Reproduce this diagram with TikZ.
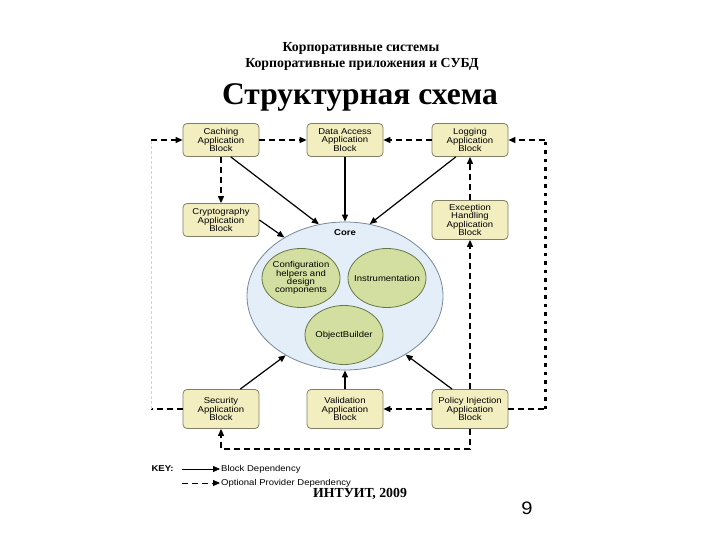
\documentclass[tikz,border=0pt]{standalone}
\usepackage{fontspec}
\setmainfont{Liberation Serif}
\setsansfont[FakeStretch=1.12]{Liberation Sans}
\usetikzlibrary{arrows.meta,shapes.geometric}
\definecolor{blockfill}{RGB}{243,238,192}
\definecolor{blockline}{RGB}{128,126,100}
\definecolor{corefill}{RGB}{228,238,248}
\definecolor{coreline}{RGB}{120,136,150}
\definecolor{partfill}{RGB}{211,223,160}
\definecolor{partline}{RGB}{104,118,70}
\begin{document}
\begin{tikzpicture}[x=1pt, y=-1pt,
    diag/.style={font=\sffamily\fontsize{8.5}{8.3}\selectfont},
    block/.style={diag, draw=blockline, fill=blockfill, rounded corners=4pt, line width=0.8pt,
        minimum width=76pt, align=center, inner sep=1pt},
    part/.style={ellipse, draw=partline, fill=partfill, line width=0.8pt,
        minimum width=78pt, minimum height=59pt, inner sep=0pt},
    dep/.style={-{Triangle[length=7pt,width=6pt]}, line width=1.2pt},
    opt/.style={dep, dash pattern=on 6pt off 4pt},
    optline/.style={line width=1.2pt, dash pattern=on 6pt off 4pt}]
    \useasboundingbox (0,0) rectangle (720,540);
    \node[font=\bfseries\fontsize{13.8}{15}\selectfont] (sub1) at (361,48) {Корпоративные системы};
    \node[font=\bfseries\fontsize{13.8}{15}\selectfont] (sub2) at (362,64) {Корпоративные приложения и СУБД};
    \node[font=\bfseries\fontsize{31.5}{34}\selectfont] (title) at (360,97) {Структурная схема};
    \node[ellipse, draw=coreline, fill=corefill, line width=0.8pt, minimum width=196pt, minimum height=148pt] (core) at (345,296) {};
    \node[diag, font=\sffamily\bfseries\fontsize{8.5}{8.3}\selectfont] (corelbl) at (345,233) {Core};
    \foreach \n/\x/\y/\t in {cfg/301/278/{Configuration\\helpers and\\design\\components}, inst/387/278/{Instrumentation}, obj/344/335/{ObjectBuilder}} {
        \node[part, label={[diag, align=center]center:\t}] (\n) at (\x,\y) {};
    }
    \foreach \n/\x/\y/\h/\t in {cach/221/140/33/{Caching\\Application\\Block}, data/345/140/33/{Data Access\\Application\\Block},
        logg/470/140/33/{Logging\\Application\\Block}, cryp/221/220/33/{Cryptography\\Application\\Block},
        exc/470/220/39/{Exception\\Handling\\Application\\Block}, sec/221/409/39/{Security\\Application\\Block},
        val/345/409/39/{Validation\\Application\\Block}, pol/470/409/39/{Policy Injection\\Application\\Block}} {
        \node[block, minimum height=\h pt] (\n) at (\x,\y) {\t};
    }
    \draw[dep] (cach.-60) -- (core.110);
    \draw[dep] (data.south) -- (core.north);
    \draw[dep] (logg.-130) -- (core.71);
    \draw[dep] (cryp.east) -- (core.136);
    \draw[dep] (sec.46) -- (core.-135);
    \draw[dep] (val.north) -- (core.south);
    \draw[dep] (pol.132) -- (core.-44);
    \draw[opt] (cach.east) -- (data.west);
    \draw[opt] (logg.west) -- (data.east);
    \draw[opt] (cach.south) -- (cryp.north);
    \draw[opt] (exc.north) -- (logg.south);
    \draw[opt] (pol.north) -- (exc.south);
    \draw[opt] (pol.west) -- (val.east);
    \draw[opt] (pol.south) -- ++(0,20) -| (sec.south);
    \coordinate (lft) at (151,0);
    \draw[optline] (sec.west) -- (sec.west -| lft);
    \draw[gray!35, line width=0.6pt, dash pattern=on 3pt off 2pt] (sec.west -| lft) -- (cach.west -| lft);
    \draw[opt] (cach.west -| lft) -- (cach.west);
    \coordinate (rgt) at (545,0);
    \draw[optline] (pol.east) -- (pol.east -| rgt);
    \draw[line width=3pt, dash pattern=on 3.5pt off 5pt] (pol.east -| rgt) -- (logg.east -| rgt);
    \draw[opt] (logg.east -| rgt) -- (logg.east);
    \node[diag, font=\sffamily\bfseries\fontsize{8.5}{8.3}\selectfont, anchor=west] (key) at (148,469) {KEY:};
    \coordinate (k1) at (182,469);
    \coordinate (k2) at (182,483);
    \node[diag, anchor=west, inner sep=1pt] (kb) at (220,469) {Block Dependency};
    \node[diag, anchor=west, inner sep=1pt] (ko) at (220,483) {Optional Provider Dependency};
    \draw[dep, line width=0.8pt] (k1) -- (kb.west);
    \draw[opt, line width=0.8pt] (k2) -- (ko.west);
    \node[font=\bfseries\fontsize{13.8}{15}\selectfont] (foot) at (360,494) {ИНТУИТ, 2009};
    \node[font=\sffamily\fontsize{18}{20}\selectfont] (page) at (527,508) {9};
\end{tikzpicture}
\end{document}
